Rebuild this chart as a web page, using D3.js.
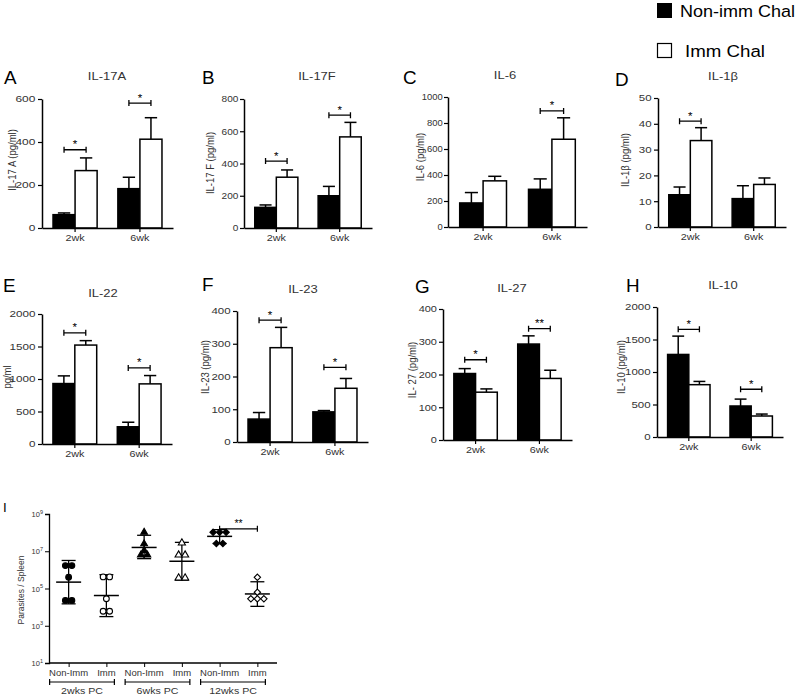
<!DOCTYPE html>
<html><head><meta charset="utf-8">
<script src="https://cdn.jsdelivr.net/npm/d3@7"></script>
<style>body{margin:0;background:#fff}svg{display:block;font-family:"Liberation Sans",Arial,sans-serif}</style>
</head><body><svg id="c" width="800" height="695"></svg>
<script>
// ---------- data ----------
const timepoints = ["2wk", "6wk"];
const seriesNames = ["Non-imm Chal", "Imm Chal"];
const panelLetters = ["A", "B", "C", "D", "E", "F", "G", "H"];
const cytokines = ["IL-17A", "IL-17F", "IL-6", "IL-1β", "IL-22", "IL-23", "IL-27", "IL-10"];
const yAxisLabels = ["IL-17 A (pg/ml)", "IL-17 F (pg/ml)", "IL-6 (pg/ml)", "IL-1β (pg/ml)", "pg/ml", "IL-23 (pg/ml)", "IL- 27 (pg/ml)", "IL-10 (pg/ml)"];
const yMax = [600, 800, 1000, 50, 2000, 400, 400, 2000];
const yStep = [200, 200, 200, 10, 500, 100, 100, 500];
const nonImmMean = [[62, 183], [128, 200], [185, 290], [12.5, 11], [930, 265], [70, 92], [203, 293], [1270, 477]];
const nonImmErr  = [[8, 53], [15, 58], [80, 80], [3, 5], [118, 70], [20, 4], [15, 25], [282, 106]];
const immMean    = [[267, 413], [315, 565], [355, 675], [33.5, 16.5], [1522, 925], [288, 164], [146, 188], [805, 323]];
const immErr     = [[59, 100], [45, 90], [35, 165], [5, 2.5], [68, 128], [62, 30], [10, 25], [50, 30]];
const sigLabel   = [["*", "*"], ["*", "*"], ["", "*"], ["*", ""], ["*", "*"], ["*", "*"], ["*", "**"], ["*", "*"]];
const sigLevel   = [[364, 581], [415, 700], [null, 893], [41, null], [1710, 1170], [372, 228], [245, 340], [1656, 735]];

// Panel I
const iCategories = ["Non-Imm", "Imm", "Non-Imm", "Imm", "Non-Imm", "Imm"];
const iGroups = ["2wks PC", "6wks PC", "12wks PC"];
const iPoints = [
  [1.7e6, 1.7e6, 4.0e5, 2.3e4, 2.3e4],
  [4.2e5, 4.2e5, 2.8e4, 6.0e3, 6.0e3],
  [1.05e8, 2.5e7, 1.1e7, 6.3e6, 6.3e6],
  [2.8e7, 6.3e6, 6.3e6, 3.7e5, 3.7e5],
  [1.05e8, 1.05e8, 1.05e8, 2.6e7, 2.6e7],
  [4.0e5, 6.3e4, 2.8e4, 2.8e4, 2.8e4]
];
const iMean = [2.2e5, 4.2e4, 1.6e7, 2.9e6, 6.3e7, 5.1e4];
const iHigh = [3.2e6, 5.5e5, 7.2e7, 3.0e7, 1.45e8, 2.3e5];
const iLow  = [1.5e4, 3.1e3, 4.0e6, 2.8e5, 2.6e7, 1.1e4];
const iTicks = [1e1, 1e3, 1e5, 1e7, 1e9];
const iSig = {from: 4, to: 5, label: "**", level: 1.6e8};

// ---------- layout ----------
const svg = d3.select("#c");
const boxes = [
  {x0: 42, x1: 173, yT: 99, yB: 228, lx: 4, ly: 84, tx: 107, ty: 80, yl: 12, ylY: 160, st: 1.33},
  {x0: 244, x1: 372, yT: 99, yB: 228, lx: 202, ly: 84, tx: 317, ty: 80, yl: 210, ylY: 163, st: 1.12},
  {x0: 448, x1: 587, yT: 97, yB: 227, lx: 403, ly: 84, tx: 505, ty: 79, yl: 420, ylY: 157, st: 1.05},
  {x0: 658, x1: 786, yT: 98, yB: 227, lx: 615, ly: 86, tx: 723, ty: 80, yl: 625, ylY: 160, st: 1.28},
  {x0: 42, x1: 172, yT: 314, yB: 444, lx: 3, ly: 292, tx: 103, ty: 297, yl: 7, ylY: 377, st: 1.3},
  {x0: 237, x1: 368, yT: 311, yB: 442, lx: 202, ly: 291, tx: 303, ty: 293, yl: 205, ylY: 367, st: 1.28},
  {x0: 443, x1: 572, yT: 309, yB: 440, lx: 415, ly: 293, tx: 512, ty: 292, yl: 412, ylY: 370, st: 1.22},
  {x0: 657, x1: 783, yT: 307, yB: 437, lx: 626, ly: 292, tx: 723, ty: 289, yl: 621, ylY: 367, st: 1.28}
];
const TXT = "#333";

function label(g, x, y, str, size, opts = {}) {
  const sx = opts.sx || 1.01;
  const t = g.append("text")
    .attr("transform", `translate(${x},${y}) scale(${sx},1)` + (opts.rot ? ` rotate(${opts.rot})` : ""))
    .attr("font-size", size)
    .attr("text-anchor", opts.anchor || "start")
    .attr("fill", opts.fill || TXT)
    .text(str);
  if (opts.dy) t.attr("dy", opts.dy);
  return t;
}

function styleAxis(ax, stretch) {
  ax.select(".domain").attr("stroke", "#000").attr("stroke-width", 1.5);
  ax.selectAll(".tick line").attr("stroke", "#000").attr("stroke-width", 1.2);
  ax.selectAll(".tick text").attr("fill", TXT).attr("font-size", 9)
    .attr("font-family", "Liberation Sans, Arial, sans-serif")
    .attr("transform", `scale(${stretch},1)`);
}

cytokines.forEach((name, i) => {
  const b = boxes[i];
  const g = svg.append("g");
  const x = d3.scaleBand().domain(timepoints).range([b.x0, b.x1]).paddingInner(0.32).paddingOuter(0.17);
  const xs = d3.scaleBand().domain(seriesNames).range([0, x.bandwidth()]);
  const y = d3.scaleLinear().domain([0, yMax[i]]).range([b.yB, b.yT]);

  // bars + error bars
  const rows = [];
  timepoints.forEach((t, k) => {
    rows.push({t, s: seriesNames[0], v: nonImmMean[i][k], e: nonImmErr[i][k]});
    rows.push({t, s: seriesNames[1], v: immMean[i][k], e: immErr[i][k]});
  });
  const bw = xs.bandwidth();
  rows.forEach(r => {
    const bx = x(r.t) + xs(r.s);
    const cx = bx + bw / 2;
    g.append("line").attr("x1", cx).attr("x2", cx).attr("y1", y(r.v)).attr("y2", y(r.v + r.e))
      .attr("stroke", "#000").attr("stroke-width", 1.5);
    g.append("line").attr("x1", cx - bw * 0.28).attr("x2", cx + bw * 0.28)
      .attr("y1", y(r.v + r.e)).attr("y2", y(r.v + r.e)).attr("stroke", "#000").attr("stroke-width", 1.5);
    g.append("rect").attr("x", bx).attr("width", bw).attr("y", y(r.v)).attr("height", y(0) - y(r.v))
      .attr("fill", r.s === seriesNames[0] ? "#000" : "#fff").attr("stroke", "#000").attr("stroke-width", 1.5);
  });

  // significance brackets
  timepoints.forEach((t, k) => {
    if (!sigLabel[i][k]) return;
    const xa = x(t) + xs(seriesNames[0]) + bw / 2;
    const xb = x(t) + xs(seriesNames[1]) + bw / 2;
    const yy = y(sigLevel[i][k]);
    g.append("path").attr("d", `M${xa},${yy - 3}V${yy + 3}M${xa},${yy}H${xb}M${xb},${yy - 3}V${yy + 3}`)
      .attr("stroke", "#000").attr("stroke-width", 1.3).attr("fill", "none");
    label(g, (xa + xb) / 2, yy - 1.5, sigLabel[i][k], 11, {anchor: "middle", fill: "#000", sx: 1.05});
  });

  // axes
  const ya = g.append("g").attr("transform", `translate(${b.x0},0)`)
    .call(d3.axisLeft(y).tickValues(d3.range(0, yMax[i] + 1e-9, yStep[i])).tickFormat(d3.format("d"))
      .tickSize(4).tickSizeOuter(0).tickPadding(1));
  styleAxis(ya, b.st);
  const xa = g.append("g").attr("transform", `translate(0,${b.yB})`)
    .call(d3.axisBottom(x).tickSize(4).tickSizeOuter(0).tickPadding(3));
  styleAxis(xa, 1.2);

  label(g, b.tx, b.ty, name, 10, {anchor: "middle", sx: 1.3});
  label(g, b.lx, b.ly, panelLetters[i], 18.5, {fill: "#000", sx: 1.02});
  label(g, b.yl, b.ylY, yAxisLabels[i], 9.5, {anchor: "middle", rot: -90, sx: 1.2, dy: "0.35em"});
});

// legend
const lg = svg.append("g");
lg.append("rect").attr("x", 657).attr("y", 3).attr("width", 15).attr("height", 15).attr("fill", "#000");
label(lg, 680, 17, seriesNames[0], 17, {sx: 1.06, fill: "#000"});
lg.append("rect").attr("x", 657.5).attr("y", 43.5).attr("width", 14).attr("height", 14).attr("fill", "#fff").attr("stroke", "#000").attr("stroke-width", 1.2);
label(lg, 685, 57, seriesNames[1], 17, {sx: 1.1, fill: "#000"});

// ---------- Panel I ----------
const gi = svg.append("g");
const catIdx = iCategories.map((c, k) => k);
const xi = d3.scalePoint().domain(catIdx).range([49, 277]).padding(0.52);
const yi = d3.scaleLog().domain([1e1, 1e9]).range([663, 514]);
const shapes = [
  {type: d3.symbolCircle, size: 26, fill: "#000"},
  {type: d3.symbolCircle, size: 26, fill: "#fff"},
  {type: d3.symbolTriangle, size: 20, fill: "#000"},
  {type: d3.symbolTriangle, size: 22, fill: "#fff"},
  {type: d3.symbolDiamond2 || d3.symbolDiamond, size: 26, fill: "#000"},
  {type: d3.symbolDiamond2 || d3.symbolDiamond, size: 26, fill: "#fff"}
];

catIdx.forEach(k => {
  const cx = xi(k);
  gi.append("line").attr("x1", cx).attr("x2", cx).attr("y1", yi(iHigh[k])).attr("y2", yi(iLow[k])).attr("stroke", "#000").attr("stroke-width", 1.3);
  [iHigh[k], iLow[k]].forEach(v => gi.append("line").attr("x1", cx - 7).attr("x2", cx + 7).attr("y1", yi(v)).attr("y2", yi(v)).attr("stroke", "#000").attr("stroke-width", 1.3));
  gi.append("line").attr("x1", cx - 12.5).attr("x2", cx + 12.5).attr("y1", yi(iMean[k])).attr("y2", yi(iMean[k])).attr("stroke", "#000").attr("stroke-width", 1.5);
  const groups = d3.group(iPoints[k], v => v);
  groups.forEach((arr, v) => {
    arr.forEach((_, j) => {
      const off = (j - (arr.length - 1) / 2) * 6.5;
      gi.append("path").attr("d", d3.symbol().type(shapes[k].type).size(shapes[k].size)())
        .attr("transform", `translate(${cx + off},${yi(v)})`)
        .attr("fill", shapes[k].fill).attr("stroke", "#000").attr("stroke-width", 1.1);
    });
  });
});

{
  const xa = xi(iSig.from), xb = xi(iSig.to), yy = yi(iSig.level);
  gi.append("path").attr("d", `M${xa},${yy - 3}V${yy + 3}M${xa},${yy}H${xb}M${xb},${yy - 3}V${yy + 3}`)
    .attr("stroke", "#000").attr("stroke-width", 1.2).attr("fill", "none");
  label(gi, (xa + xb) / 2, yy - 2, iSig.label, 10, {anchor: "middle", fill: "#000", sx: 1.05});
}

const yaI = gi.append("g").attr("transform", "translate(49,0)")
  .call(d3.axisLeft(yi).tickValues(iTicks).tickSize(4).tickFormat(() => ""));
yaI.select(".domain").attr("stroke", "#000").attr("stroke-width", 1.3);
yaI.selectAll(".tick line").attr("stroke", "#000");
iTicks.forEach(v => {
  const t = gi.append("text").attr("x", 43).attr("y", yi(v) + 3).attr("text-anchor", "end")
    .attr("font-size", 7.5).attr("fill", TXT);
  t.append("tspan").text("10");
  t.append("tspan").attr("font-size", 5.5).attr("dy", -3.5).text(Math.round(Math.log10(v)));
});
const xaI = gi.append("g").attr("transform", "translate(0,663)")
  .call(d3.axisBottom(xi).tickSize(4).tickSizeOuter(0).tickFormat(() => ""));
xaI.select(".domain").attr("stroke", "#000").attr("stroke-width", 1.3).attr("d", "M49,0H277");
xaI.selectAll(".tick line").attr("stroke", "#000");
catIdx.forEach(k => label(gi, xi(k), 676, iCategories[k], 8.5, {anchor: "middle", sx: 1.12}));
iGroups.forEach((gname, j) => {
  const a = xi(2 * j) - 19, c = xi(2 * j + 1) + 8;
  gi.append("path").attr("d", `M${a},679V685M${a},682H${c}M${c},679V685`).attr("stroke", "#000").attr("stroke-width", 1.2).attr("fill", "none");
  label(gi, (a + c) / 2, 694, gname, 9.3, {anchor: "middle", sx: 1.14});
});
label(gi, 21, 590, "Parasites / Spleen", 8.5, {anchor: "middle", rot: -90, sx: 1.15, dy: "0.35em"});
label(gi, 3, 512, "I", 13, {fill: "#000", sx: 1.02});
</script></body></html>
